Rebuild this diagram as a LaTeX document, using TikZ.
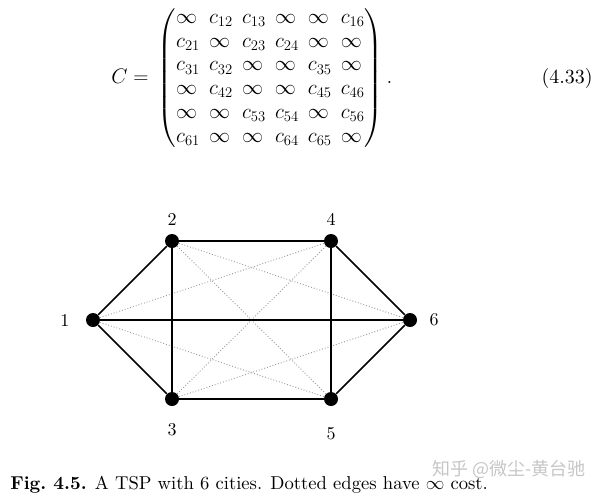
\RequirePackage{fix-cm}
\documentclass[tikz,border=0pt]{standalone}
\usepackage{amsmath,amssymb}
\usepackage{fontspec}
\newfontfamily\capfont{lmroman10-regular.otf}[BoldFont=lmroman10-bold.otf]
\newfontfamily\cjkfont{Noto Sans CJK SC}
\usepackage{tikz}
\usetikzlibrary{positioning}

\begin{document}
\begin{tikzpicture}[x=1pt, y=-1pt, semithick, node distance=79pt and 79pt, on grid]
\tikzstyle{city}=[circle, fill=black, inner sep=0pt, minimum size=14pt]
\tikzstyle{tour}=[line width=1.7pt]
\tikzstyle{nocost}=[gray!80, dotted, line width=0.9pt]
\tikzstyle{every label}=[inner sep=0pt, font=\capfont\fontsize{18}{20}\selectfont]

\useasboundingbox (0,0) rectangle (600,496);

% cost matrix
\node[anchor=west, inner sep=0pt] (eq) at (111,78) {\fontsize{21}{23.8}\selectfont
$C = \,\left(\arraycolsep=4.6pt\begin{array}{@{}llllll@{}}
\infty & c_{12} & c_{13} & \infty & \infty & c_{16}\\
c_{21} & \infty & c_{23} & c_{24} & \infty & \infty\\
c_{31} & c_{32} & \infty & \infty & c_{35} & \infty\\
\infty & c_{42} & \infty & \infty & c_{45} & c_{46}\\
\infty & \infty & c_{53} & c_{54} & \infty & c_{56}\\
c_{61} & \infty & \infty & c_{64} & c_{65} & \infty
\end{array}\right).$};
\node[anchor=east, inner sep=0pt] (eqno) at (593,78) {\capfont\fontsize{20}{24}\selectfont (4.33)};

% cities
\node[city] (1) at (93,320) [label={[label distance=16pt]left:1}] {};
\node[city] (2) [above right=of 1, label={[label distance=8pt]above:2}] {};
\node[city] (4) [right=159pt of 2, label={[label distance=8pt]above:4}] {};
\node[city] (3) [below right=of 1, label={[label distance=17pt]below:3}] {};
\node[city] (5) [right=159pt of 3, label={[label distance=21pt]below:5}] {};
\node[city] (6) [below right=of 4, label={[label distance=12pt]right:6}] {};

% infinite cost edges
\path[nocost]
(1) edge (4)
    edge (5)
(2) edge (5)
    edge (6)
(3) edge (4)
    edge (6);

% finite cost edges
\path[tour]
(1) edge (2)
    edge (3)
    edge (6)
(2) edge (4)
    edge (3)
(3) edge (5)
(4) edge (5)
    edge (6)
(5) edge (6);

\node[anchor=base west, inner sep=0pt, font=\capfont\fontsize{18.6}{20}\selectfont] (caption) at (10,489)
{\textbf{Fig.~4.5.} A TSP with 6 cities. Dotted edges have $\infty$ cost.};
\node[anchor=base west, inner sep=0pt, text=gray!45, font=\cjkfont\fontsize{18}{20}\selectfont] (mark) at (432,475) {知乎 @微尘-黄台驰};
\end{tikzpicture}
\end{document}
